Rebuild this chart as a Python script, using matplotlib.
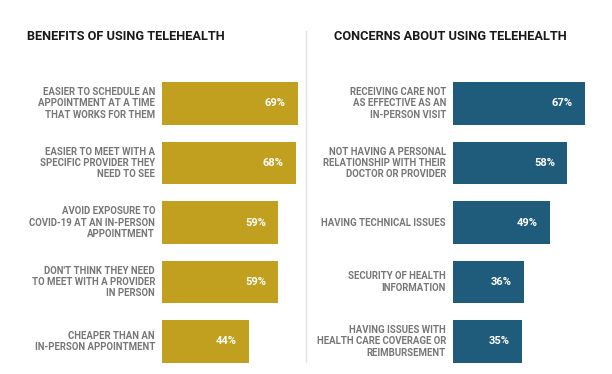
import matplotlib
matplotlib.use("Agg")
import matplotlib.pyplot as plt

W, H = 612, 374
DPI = 100

benefit_labels = [
    "EASIER TO SCHEDULE AN\nAPPOINTMENT AT A TIME\nTHAT WORKS FOR THEM",
    "EASIER TO MEET WITH A\nSPECIFIC PROVIDER THEY\nNEED TO SEE",
    "AVOID EXPOSURE TO\nCOVID-19 AT AN IN-PERSON\nAPPOINTMENT",
    "DON'T THINK THEY NEED\nTO MEET WITH A PROVIDER\nIN PERSON",
    "CHEAPER THAN AN\nIN-PERSON APPOINTMENT",
]
benefit_values = [69, 68, 59, 59, 44]

concern_labels = [
    "RECEIVING CARE NOT\nAS EFFECTIVE AS AN\nIN-PERSON VISIT",
    "NOT HAVING A PERSONAL\nRELATIONSHIP WITH THEIR\nDOCTOR OR PROVIDER",
    "HAVING TECHNICAL ISSUES",
    "SECURITY OF HEALTH\nINFORMATION",
    "HAVING ISSUES WITH\nHEALTH CARE COVERAGE OR\nREIMBURSEMENT",
]
concern_values = [67, 58, 49, 36, 35]

titles = ["BENEFITS OF USING TELEHEALTH", "CONCERNS ABOUT USING TELEHEALTH"]
colors = ["#C1A01F", "#1F5B7B"]

fig = plt.figure(figsize=(W / DPI, H / DPI), dpi=DPI)
fig.patch.set_facecolor("white")

PX_PER_PCT = 1.97
top_px, bot_px = 73.75, 371.25

def px_axes(left_px, width_px):
    return fig.add_axes([left_px / W, (H - bot_px) / H, width_px / W, (bot_px - top_px) / H])

panels = [
    (162, benefit_labels, benefit_values, 27),
    (453, concern_labels, concern_values, 334),
]

for i, (left_px, labels, values, title_x) in enumerate(panels):
    ax = px_axes(left_px, 100 * PX_PER_PCT)
    ax.set_facecolor("none")
    ys = list(range(len(values)))
    ax.barh(ys, values, height=0.72, color=colors[i], edgecolor="none")
    ax.set_xlim(0, 100)
    ax.set_ylim(len(values) - 0.5, -0.5)
    ax.axis("off")
    for y, v, lab in zip(ys, values, labels):
        ax.text(v - 12 / PX_PER_PCT, y, f"{v}%", ha="right", va="center",
                color="white", fontsize=8.0, fontweight="bold", family="Roboto")
        ax.text(-7 / PX_PER_PCT, y, lab, ha="right", va="center",
                color="#777777", fontsize=6.9, fontweight="bold", family="Roboto",
                linespacing=1.15, multialignment="right")
    fig.text(title_x / W, 1 - 36 / H, titles[i], ha="left", va="center",
             color="#1A1A1A", fontsize=9.2, fontweight="bold", family="Roboto")

# divider
fig.add_artist(plt.Line2D([305.5 / W, 305.5 / W], [1 - 31 / H, 1 - 362 / H],
                          color="#E3E3E3", linewidth=1.0))

fig.savefig("out.png", dpi=DPI, facecolor="white")
